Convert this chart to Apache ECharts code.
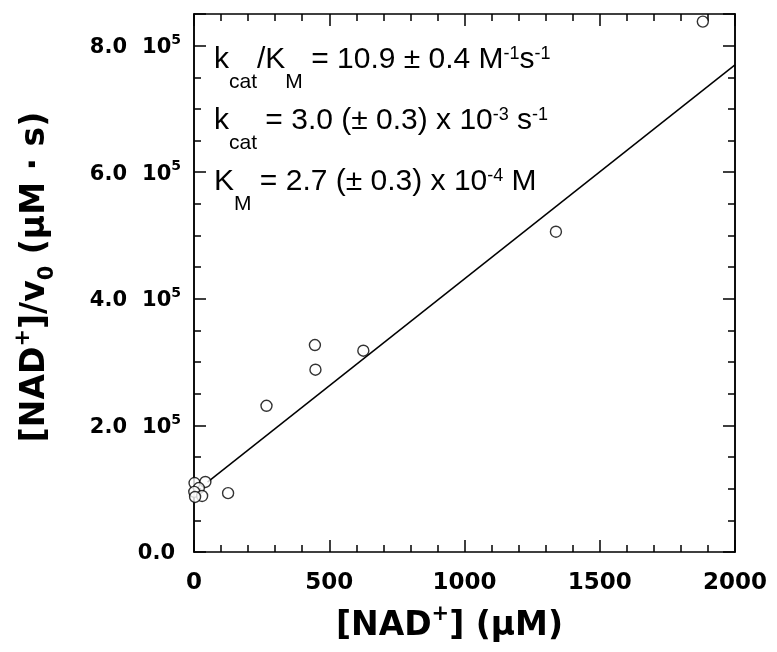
<!DOCTYPE html>
<html><head><meta charset="utf-8">
<script src="https://cdn.jsdelivr.net/npm/echarts@6/dist/echarts.min.js"></script>
<style>html,body{margin:0;padding:0;background:#fff}#c{width:777px;height:652px}</style>
</head><body><div id="c"></div><script>
// ---- data ----
const nadConc   = [2, 42, 18, 1, 30, 4, 126, 268, 447, 449, 626, 1338, 1881];          // [NAD+] (µM)
const nadOverV0 = [109000, 110700, 101000, 95000, 88500, 87000, 93000, 231000, 327000, 288000, 318000, 506000, 838000]; // [NAD+]/v0 (µM·s)
const fitX = [50, 2000];
const fitY = [110500, 769600];
const xTickValues = [0, 500, 1000, 1500, 2000];
const yTickValues = [0, 200000, 400000, 600000, 800000];
const annotationLines = [
  '{m|k}{s|cat}{m|/K}{s|M}{m| = 10.9 ± 0.4 M}{p|-1}{m|s}{p|-1}',
  '{m|k}{s|cat}{m| = 3.0 (± 0.3) x 10}{p|-3}{m| s}{p|-1}',
  '{m|K}{s|M}{m| = 2.7 (± 0.3) x 10}{p|-4}{m| M}'
];
const xTitle = '{b|[NAD}{sup|+}{b|] (μM)}';
const yTitle = '{b|[NAD}{sup|+}{b|]/v}{sub|0}{b| (μM · s)}';

// ---- styling ----
const BLK = '#000';
const TICKF = 'DejaVu Sans';
const TITLEF = 'DejaVu Sans';
const line = {color: BLK, width: 1.5};
const titleRich = {
  b:   {fontFamily: TITLEF, fontWeight: 'bold', fontSize: 33, color: BLK, padding: [6, 0, 6, 0]},
  sup: {fontFamily: TITLEF, fontWeight: 'bold', fontSize: 21, color: BLK, verticalAlign: 'top'},
  sub: {fontFamily: TITLEF, fontWeight: 'bold', fontSize: 21, color: BLK, verticalAlign: 'bottom'}
};
const tickRich = {
  n: {fontFamily: TICKF, fontWeight: 'bold', fontSize: 21, color: BLK, padding: [4, 0, 0, 0]},
  z: {fontFamily: TICKF, fontWeight: 'bold', fontSize: 21, color: BLK, padding: [4, 6, 0, 0]},
  g: {fontFamily: TICKF, fontWeight: 'bold', fontSize: 21, color: BLK, padding: [4, 15, 0, 0]},
  e: {fontFamily: TICKF, fontWeight: 'bold', fontSize: 14, color: BLK, verticalAlign: 'top'}
};
const X_MIN = 0, X_MAX = 2000, Y_MIN = 0, Y_MAX = 850000;

function xAxisDef(pos, showLabel) {
  return {
    type: 'value', position: pos, min: X_MIN, max: X_MAX, interval: 500,
    axisLine: {show: true, onZero: false, lineStyle: line},
    axisTick: {show: true, inside: true, length: 12, lineStyle: line},
    minorTick: {show: true, splitNumber: 5, length: 7, lineStyle: line},
    splitLine: {show: false}, minorSplitLine: {show: false},
    axisLabel: showLabel ? {
      show: true, margin: 20, fontFamily: TICKF, fontWeight: 'bold', fontSize: 23, color: BLK,
      formatter: v => xTickValues.includes(v) ? String(v) : ''
    } : {show: false},
    name: showLabel ? xTitle : '', nameLocation: 'middle', nameGap: 52,
    nameTextStyle: {rich: titleRich, padding: [0, 30, 0, 0]}
  };
}
function yAxisDef(pos, interval, len, showLabel) {
  return {
    type: 'value', position: pos, min: Y_MIN, max: Y_MAX, interval: interval,
    axisLine: {show: true, onZero: false, lineStyle: line},
    axisTick: {show: true, inside: true, length: len, lineStyle: line},
    splitLine: {show: false},
    axisLabel: showLabel ? {
      show: true, margin: 13,
      formatter: v => {
        if (!yTickValues.includes(v)) return '';
        if (v === 0) return '{z|0.0}';
        return '{g|' + (v / 1e5).toFixed(1) + '}{n|10}{e|5}';
      },
      rich: tickRich
    } : {show: false},
    name: showLabel ? yTitle : '', nameLocation: 'middle', nameGap: 136, nameRotate: 90,
    nameTextStyle: {rich: titleRich, padding: [0, 0, 0, 12]}
  };
}

const chart = echarts.init(document.getElementById('c'), null, {renderer: 'canvas'});
chart.setOption({
  animation: false,
  backgroundColor: '#fff',
  grid: {left: 194, right: 42, top: 14, bottom: 100, containLabel: false},
  xAxis: [xAxisDef('bottom', true), xAxisDef('top', false)],
  yAxis: [
    yAxisDef('left', 200000, 12, true),
    yAxisDef('left', 50000, 7, false),
    yAxisDef('right', 200000, 12, false),
    yAxisDef('right', 50000, 7, false)
  ],
  series: [
    {type: 'line', xAxisIndex: 0, yAxisIndex: 0, data: fitX.map((x, i) => [x, fitY[i]]),
     showSymbol: false, symbol: 'none', lineStyle: {color: BLK, width: 1.5}, z: 2, silent: true},
    {type: 'scatter', xAxisIndex: 0, yAxisIndex: 0, data: nadConc.map((x, i) => [x, nadOverV0[i]]),
     symbol: 'circle', symbolSize: 11,
     itemStyle: {color: '#fff', borderColor: BLK, borderWidth: 1.4}, z: 3}
  ],
  graphic: annotationLines.map((t, i) => ({
    type: 'text', left: 214, top: 45 + i * 61, z: 10,
    style: {
      text: t,
      rich: {
        m: {fontFamily: 'Liberation Sans', fontSize: 30, fill: BLK, padding: [0, 0, 18, 0], verticalAlign: 'top'},
        s: {fontFamily: 'Liberation Sans', fontSize: 21, fill: BLK, verticalAlign: 'bottom'},
        p: {fontFamily: 'Liberation Sans', fontSize: 18, fill: BLK, verticalAlign: 'top'}
      }
    }
  }))
});
</script></body></html>
